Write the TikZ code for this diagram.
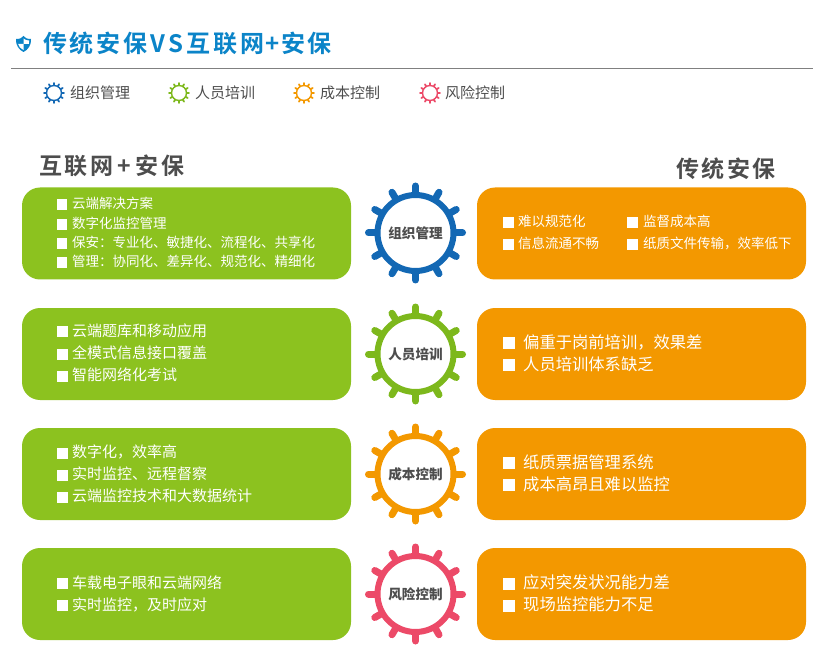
\documentclass[tikz,border=0pt]{standalone}
\usepackage{xcolor}
\usepackage{fontspec}
\setmainfont{Noto Sans CJK SC}
\newfontfamily\headfont[LetterSpace=11,BoldFont={Noto Sans CJK SC Bold}]{Noto Sans CJK SC}
\usetikzlibrary{calc}
\definecolor{ablue}{HTML}{1368B4}
\definecolor{agreen}{HTML}{7DB81C}
\definecolor{aorange}{HTML}{F39800}
\definecolor{ared}{HTML}{EC4A68}
\definecolor{panelgreen}{HTML}{8CC21F}
\definecolor{titleblue}{HTML}{0B84C8}
\definecolor{agray}{HTML}{4D4D4D}
\tikzstyle{panel} = [rounded corners=18pt, minimum width=329pt, minimum height=92pt, inner sep=0pt]
\tikzstyle{item} = [anchor=base west, inner sep=0pt, text=white]
\tikzstyle{legendtext} = [anchor=base west, inner sep=0pt, text=agray, font=\fontsize{15}{16}\selectfont]
\tikzstyle{headtext} = [anchor=base west, inner sep=0pt, font=\fontsize{23}{25}\headfont\bfseries]
\newcommand{\sq}[2]{\makebox[#2pt][l]{\rule[-1pt]{#1pt}{#1pt}}}
% name, x, y, colour, text
\newcommand{\biggear}[5]{
  \foreach \a in {0,30,...,330}
    \draw [#4, line width=7pt, line cap=round] ($(#2,#3)+(\a:38)$) -- ($(#2,#3)+(\a:47)$);
  \node [circle, draw=#4, line width=6pt, fill=white, minimum size=76pt, inner sep=0pt,
    text=agray, font=\fontsize{13.6}{15}\selectfont\bfseries] (#1) at (#2,#3) {#5};
}
\newcommand{\smallgear}[4]{
  \foreach \a in {0,30,...,330}
    \draw [#4, line width=1.8pt, line cap=round] ($(#2,#3)+(\a:7.5)$) -- ($(#2,#3)+(\a:10)$);
  \node [circle, draw=#4, line width=1.4pt, fill=white, minimum size=15pt, inner sep=0pt] (#1) at (#2,#3) {};
}
\begin{document}
\begin{tikzpicture}[x=1pt,y=-1pt]
  \useasboundingbox (0,0) rectangle (825,663);
  % title
  \fill [titleblue] (16,39) .. controls (20,39) and (22,38) .. (23.5,36) .. controls (25,38) and (27,39) .. (31,39)
    .. controls (31.5,45) and (28,50) .. (23.5,52) .. controls (19,50) and (15.5,45) .. (16,39) -- cycle;
  \fill [white] (23.5,38.5) .. controls (25,40) and (27,40.5) .. (29.2,40.5) -- (28.8,44) -- (23.5,44) -- cycle;
  \fill [white] (18.2,44) -- (23.5,44) -- (23.5,50) .. controls (20.5,48.5) and (19,47) .. (18.2,44) -- cycle;
  \node [headtext, text=titleblue, font=\fontsize{24}{26}\headfont\bfseries] (title) at (43,53)
    {传统安保\kern3.3pt V\kern3.3pt S\kern3.3pt 互联网\kern1.5pt+\kern1.5pt 安保};
  \draw [gray, line width=0.9pt] (11,68) -- (813,68);
  % legend
  \smallgear{lega}{54}{93}{ablue}
  \smallgear{legb}{179}{93}{agreen}
  \smallgear{legc}{304}{93}{aorange}
  \smallgear{legd}{430}{93}{ared}
  \node [legendtext] (legat) at (70,99) {组织管理};
  \node [legendtext] (legbt) at (195,99) {人员培训};
  \node [legendtext] (legct) at (320,99) {成本控制};
  \node [legendtext] (legdt) at (445,99) {风险控制};
  % headings
  \node [headtext, text=agray] (headl) at (39,174.5) {互联网\kern4.5pt+\kern4.5pt 安保};
  \node [headtext, text=agray] (headr) at (676,177.5) {传统安保};
  % panels
  \foreach \n/\y in {a/233.5,b/354,c/474,d/594} {
    \node [panel, fill=panelgreen] (l\n) at (186.5,\y) {};
    \node [panel, fill=aorange] (r\n) at (641.5,\y) {};
  }
  % gears
  \biggear{ga}{415.5}{233}{ablue}{组织管理}
  \biggear{gb}{415.5}{354}{agreen}{人员培训}
  \biggear{gc}{415.5}{474}{aorange}{成本控制}
  \biggear{gd}{415.5}{594}{ared}{风险控制}
  % left text
  \begin{scope}[every node/.append style={font=\fontsize{13.5}{15}\selectfont}]
    \node [item] (la1) at (56.5,209) {\sq{10.5}{15.5}云端解决方案};
    \node [item] (la2) at (56.5,229) {\sq{10.5}{15.5}数字化监控管理};
    \node [item] (la3) at (56.5,248) {\sq{10.5}{15.5}保安：专业化、敏捷化、流程化、共享化};
    \node [item] (la4) at (56.5,267) {\sq{10.5}{15.5}管理：协同化、差异化、规范化、精细化};
    \node [item] (ra1) at (503,227) {\sq{11}{15}难以规范化};
    \node [item] (ra2) at (503,249) {\sq{11}{15}信息流通不畅};
    \node [item] (ra3) at (627,227) {\sq{11}{16}监督成本高};
    \node [item] (ra4) at (627,249) {\sq{11}{16}纸质文件传输，效率低下};
  \end{scope}
  \begin{scope}[every node/.append style={font=\fontsize{15}{17}\selectfont}]
    \node [item] (lb1) at (56.5,336.5) {\sq{11}{15.5}云端题库和移动应用};
    \node [item] (lb2) at (56.5,358.5) {\sq{11}{15.5}全模式信息接口覆盖};
    \node [item] (lb3) at (56.5,380.5) {\sq{11}{15.5}智能网络化考试};
    \node [item] (lc1) at (56.5,457.5) {\sq{11}{15.5}数字化，效率高};
    \node [item] (lc2) at (56.5,479.5) {\sq{11}{15.5}实时监控、远程督察};
    \node [item] (lc3) at (56.5,501.5) {\sq{11}{15.5}云端监控技术和大数据统计};
    \node [item] (ld1) at (56.5,588) {\sq{11}{15.5}车载电子眼和云端网络};
    \node [item] (ld2) at (56.5,610) {\sq{11}{15.5}实时监控，及时应对};
  \end{scope}
  % right text
  \begin{scope}[every node/.append style={font=\fontsize{16.3}{18}\selectfont}]
    \node [item] (rb1) at (503,348) {\sq{12}{20}偏重于岗前培训，效果差};
    \node [item] (rb2) at (503,370) {\sq{12}{20}人员培训体系缺乏};
    \node [item] (rc1) at (503,468) {\sq{12}{20}纸质票据管理系统};
    \node [item] (rc2) at (503,490) {\sq{12}{20}成本高昂且难以监控};
    \node [item] (rd1) at (503,588.5) {\sq{12}{20}应对突发状况能力差};
    \node [item] (rd2) at (503,610.5) {\sq{12}{20}现场监控能力不足};
  \end{scope}
\end{tikzpicture}
\end{document}
